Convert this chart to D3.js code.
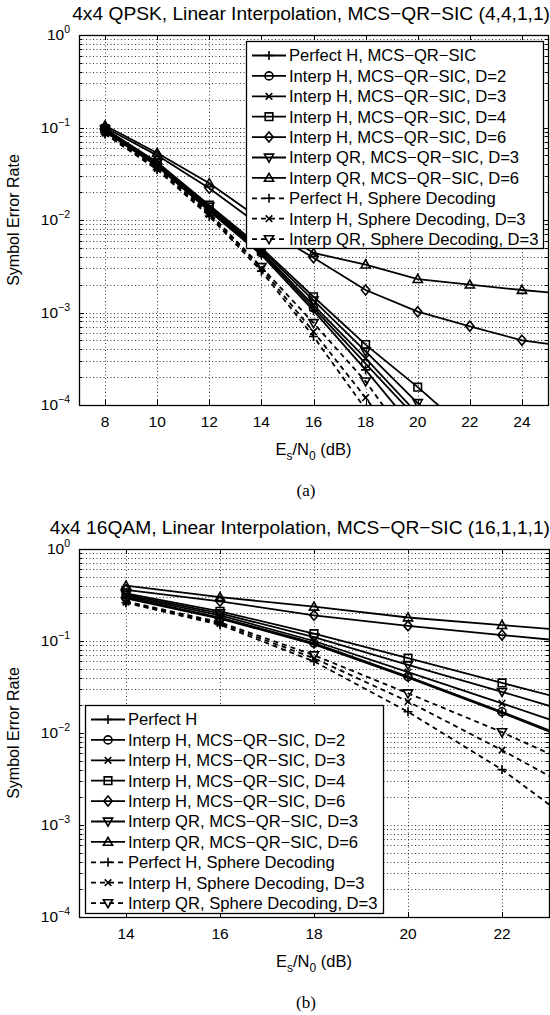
<!DOCTYPE html>
<html>
<head>
<meta charset="utf-8">
<script src="https://cdn.jsdelivr.net/npm/d3@7"></script>
<style>
  body { margin: 0; background: #fff; }
  text { font-family: "Liberation Sans", Arial, sans-serif; fill: #000; }
</style>
</head>
<body>
<svg id="fig" width="550" height="1015"></svg>
<script>
// ---------- panel (a): 4x4 QPSK ----------
const snrA = [8, 10, 12, 14, 16, 18, 20, 22, 24, 26];
const qpskPerfectSic = [0.090, 0.038, 0.0125, 0.0042, 0.00105, 0.00024, 0.00005, null, null, null];
const qpskInterpH2   = [0.092, 0.039, 0.013, 0.0044, 0.00112, 0.00028, 0.00007, null, null, null];
const qpskInterpH3   = [0.094, 0.040, 0.0135, 0.0046, 0.0012, 0.00032, 0.00008, null, null, null];
const qpskInterpH4   = [0.097, 0.042, 0.0145, 0.0050, 0.00148, 0.00045, 0.000156, 0.00005, null, null];
const qpskInterpH6   = [0.100, 0.050, 0.022, 0.0085, 0.0039, 0.00175, 0.00102, 0.00071, 0.00050, 0.00042];
const qpskInterpQR3  = [0.095, 0.041, 0.014, 0.0048, 0.00135, 0.00038, 0.000105, 0.00003, null, null];
const qpskInterpQR6  = [0.105, 0.053, 0.025, 0.010, 0.0044, 0.0033, 0.0023, 0.0020, 0.00175, 0.00155];
const qpskPerfectSd  = [0.085, 0.035, 0.011, 0.0028, 0.00055, 0.00009, 0.000012, null, null, null];
const qpskInterpHSd  = [0.087, 0.036, 0.0115, 0.0030, 0.00062, 0.00012, 0.00002, null, null, null];
const qpskInterpQRSd = [0.088, 0.037, 0.012, 0.0031, 0.00077, 0.00018, 0.00003, null, null, null];
const ticksA = [8, 10, 12, 14, 16, 18, 20, 22, 24];

// ---------- panel (b): 4x4 16QAM ----------
const snrB = [14, 16, 18, 20, 22, 24];
const qamPerfectSic = [0.29, 0.175, 0.092, 0.040, 0.0165, 0.0065];
const qamInterpH2   = [0.30, 0.18, 0.095, 0.041, 0.017, 0.0068];
const qamInterpH3   = [0.31, 0.19, 0.10, 0.046, 0.021, 0.0095];
const qamInterpH4   = [0.33, 0.21, 0.12, 0.065, 0.035, 0.019];
const qamInterpH6   = [0.36, 0.27, 0.19, 0.146, 0.116, 0.093];
const qamInterpQR3  = [0.32, 0.20, 0.11, 0.055, 0.028, 0.014];
const qamInterpQR6  = [0.40, 0.30, 0.236, 0.18, 0.149, 0.123];
const qamPerfectSd  = [0.26, 0.15, 0.060, 0.017, 0.0040, 0.0007];
const qamInterpHSd  = [0.265, 0.155, 0.065, 0.022, 0.0065, 0.0018];
const qamInterpQRSd = [0.27, 0.16, 0.070, 0.027, 0.0102, 0.0035];
const ticksB = [14, 16, 18, 20, 22];

const markers = ["+", "o", "x", "s", "d", "v", "^", "+", "x", "v"];
const dashed  = [false, false, false, false, false, false, false, true, true, true];
const namesA = ["Perfect H, MCS\u2212QR\u2212SIC", "Interp H, MCS\u2212QR\u2212SIC, D=2",
  "Interp H, MCS\u2212QR\u2212SIC, D=3", "Interp H, MCS\u2212QR\u2212SIC, D=4",
  "Interp H, MCS\u2212QR\u2212SIC, D=6", "Interp QR, MCS\u2212QR\u2212SIC, D=3",
  "Interp QR, MCS\u2212QR\u2212SIC, D=6", "Perfect H, Sphere Decoding",
  "Interp H, Sphere Decoding, D=3", "Interp QR, Sphere Decoding, D=3"];
const namesB = ["Perfect H"].concat(namesA.slice(1));

const svg = d3.select("#fig");
svg.append("rect").attr("width", 550).attr("height", 1015).attr("fill", "#fff");

function markerPath(t) {
  switch (t) {
    case "+": return "M-4.5,0H4.5M0,-4.5V4.5";
    case "x": return "M-3.3,-3.3L3.3,3.3M-3.3,3.3L3.3,-3.3";
    case "s": return "M-3.8,-3.8H3.8V3.8H-3.8Z";
    case "d": return "M0,-5L4.2,0L0,5L-4.2,0Z";
    case "v": return "M-4.6,-3.4H4.6L0,4.6Z";
    case "^": return "M-4.6,3.4H4.6L0,-4.6Z";
    case "o": return d3.symbol(d3.symbolCircle, 50)();
  }
}

function drawPanel(p) {
  const g = svg.append("g");
  const x = d3.scaleLinear().domain(p.xDomain).range([p.left, p.right]);
  const y = d3.scaleLog().domain([1e-4, 1]).range([p.bottom, p.top]);
  const clipId = "clip" + p.id;
  svg.append("clipPath").attr("id", clipId).append("rect")
    .attr("x", p.left).attr("y", p.top)
    .attr("width", p.right - p.left).attr("height", p.bottom - p.top);

  // grid
  const minor = [];
  for (let e = -4; e < 0; e++) for (let m = 1; m <= 9; m++) minor.push(m * Math.pow(10, e));
  const grid = g.append("g").attr("stroke", "#222").attr("stroke-width", 0.9)
    .attr("stroke-dasharray", "1,2.5");
  grid.selectAll(".gy").data(minor.slice(1)).enter().append("line")
    .attr("x1", p.left).attr("x2", p.right)
    .attr("y1", d => Math.round(y(d)) + 0.5).attr("y2", d => Math.round(y(d)) + 0.5);
  grid.selectAll(".gx").data(p.ticks).enter().append("line")
    .attr("y1", p.top).attr("y2", p.bottom)
    .attr("x1", d => Math.round(x(d)) + 0.5).attr("x2", d => Math.round(x(d)) + 0.5);

  // ticks
  const tk = g.append("g").attr("stroke", "#000").attr("stroke-width", 1);
  p.ticks.forEach(t => {
    const xx = Math.round(x(t)) + 0.5;
    tk.append("line").attr("x1", xx).attr("x2", xx).attr("y1", p.bottom).attr("y2", p.bottom - 5);
    tk.append("line").attr("x1", xx).attr("x2", xx).attr("y1", p.top).attr("y2", p.top + 5);
  });
  minor.concat([1]).forEach(v => {
    const yy = Math.round(y(v)) + 0.5;
    const isMajor = Math.abs(Math.log10(v) - Math.round(Math.log10(v))) < 1e-9;
    const len = isMajor ? 5 : 3;
    tk.append("line").attr("x1", p.left).attr("x2", p.left + len).attr("y1", yy).attr("y2", yy);
    tk.append("line").attr("x1", p.right).attr("x2", p.right - len).attr("y1", yy).attr("y2", yy);
  });

  // series
  const plot = g.append("g").attr("clip-path", `url(#${clipId})`);
  p.series.forEach((s, i) => {
    const pts = p.snr.map((v, k) => ({x: v, y: s[k]})).filter(d => d.y != null);
    plot.append("path").datum(pts)
      .attr("fill", "none").attr("stroke", "#000").attr("stroke-width", 1.8)
      .attr("stroke-dasharray", dashed[i] ? "5,4" : null)
      .attr("d", d3.line().x(d => x(d.x)).y(d => y(d.y)));
    plot.selectAll(null).data(pts).enter().append("path")
      .attr("d", markerPath(markers[i]))
      .attr("transform", d => `translate(${x(d.x)},${y(d.y)})`)
      .attr("fill", "none").attr("stroke", "#000").attr("stroke-width", 1.6);
  });

  // frame
  g.append("rect").attr("x", p.left + 0.5).attr("y", p.top + 0.5)
    .attr("width", p.right - p.left).attr("height", p.bottom - p.top)
    .attr("fill", "none").attr("stroke", "#000").attr("stroke-width", 1.3);

  // tick labels
  p.ticks.forEach(t => {
    g.append("text").attr("x", x(t)).attr("y", p.bottom + 22)
      .attr("text-anchor", "middle").attr("font-size", 15.5).text(t);
  });
  [0, -1, -2, -3, -4].forEach(e => {
    const tx = g.append("text").attr("x", p.left - 9).attr("y", y(Math.pow(10, e)) + 5)
      .attr("text-anchor", "end").attr("font-size", 15.5);
    tx.append("tspan").text("10");
    tx.append("tspan").attr("dy", -7).attr("font-size", 10.5)
      .text(e === 0 ? "0" : "\u2212" + (-e));
  });

  // labels
  const cx = (p.left + p.right) / 2;
  g.append("text").attr("x", p.titleX).attr("y", p.top - 15)
    .attr("text-anchor", "end").attr("font-size", 19.2).text(p.title);
  const xl = g.append("text").attr("x", cx).attr("y", p.bottom + 50)
    .attr("text-anchor", "middle").attr("font-size", 16.5);
  xl.append("tspan").text("E");
  xl.append("tspan").attr("dy", 5).attr("font-size", 12).text("s");
  xl.append("tspan").attr("dy", -5).text("/N");
  xl.append("tspan").attr("dy", 5).attr("font-size", 12).text("0");
  xl.append("tspan").attr("dy", -5).text(" (dB)");
  const cy = (p.top + p.bottom) / 2;
  g.append("text").attr("transform", `translate(19,${cy}) rotate(-90)`)
    .attr("text-anchor", "middle").attr("font-size", 16).text("Symbol Error Rate");
  g.append("text").attr("x", 306).attr("y", p.bottom + 91)
    .attr("text-anchor", "middle").attr("font-size", 17)
    .style("font-family", "'Liberation Serif', 'Times New Roman', serif").text(p.caption);

  // legend
  const L = p.legend;
  const lg = g.append("g");
  lg.append("rect").attr("x", L.x + 0.5).attr("y", L.y + 0.5).attr("width", L.w).attr("height", L.h)
    .attr("fill", "#fff").attr("stroke", "#000").attr("stroke-width", 1.3);
  p.names.forEach((name, i) => {
    const ry = L.y + 14.5 + i * 20.4;
    lg.append("line").attr("x1", L.x + 6).attr("x2", L.x + 40).attr("y1", ry).attr("y2", ry)
      .attr("stroke", "#000").attr("stroke-width", 1.8)
      .attr("stroke-dasharray", dashed[i] ? "5,4" : null);
    lg.append("path").attr("d", markerPath(markers[i]))
      .attr("transform", `translate(${L.x + 23},${ry})`)
      .attr("fill", "none").attr("stroke", "#000").attr("stroke-width", 1.6);
    lg.append("text").attr("x", L.x + 43).attr("y", ry + 5.8)
      .attr("font-size", 16.6).text(name);
  });
}

drawPanel({
  id: "a", left: 79, right: 548, top: 35, bottom: 405, xDomain: [7, 25],
  snr: snrA, ticks: ticksA, titleX: 550,
  series: [qpskPerfectSic, qpskInterpH2, qpskInterpH3, qpskInterpH4, qpskInterpH6,
           qpskInterpQR3, qpskInterpQR6, qpskPerfectSd, qpskInterpHSd, qpskInterpQRSd],
  names: namesA, title: "4x4 QPSK, Linear Interpolation, MCS\u2212QR\u2212SIC (4,4,1,1)",
  caption: "(a)", legend: {x: 246, y: 41, w: 297, h: 207}
});
drawPanel({
  id: "b", left: 79, right: 549, top: 549, bottom: 917, xDomain: [13, 23],
  snr: snrB, ticks: ticksB, titleX: 550,
  series: [qamPerfectSic, qamInterpH2, qamInterpH3, qamInterpH4, qamInterpH6,
           qamInterpQR3, qamInterpQR6, qamPerfectSd, qamInterpHSd, qamInterpQRSd],
  names: namesB, title: "4x4 16QAM, Linear Interpolation, MCS\u2212QR\u2212SIC (16,1,1,1)",
  caption: "(b)", legend: {x: 85, y: 705, w: 298, h: 208}
});
</script>
</body>
</html>
